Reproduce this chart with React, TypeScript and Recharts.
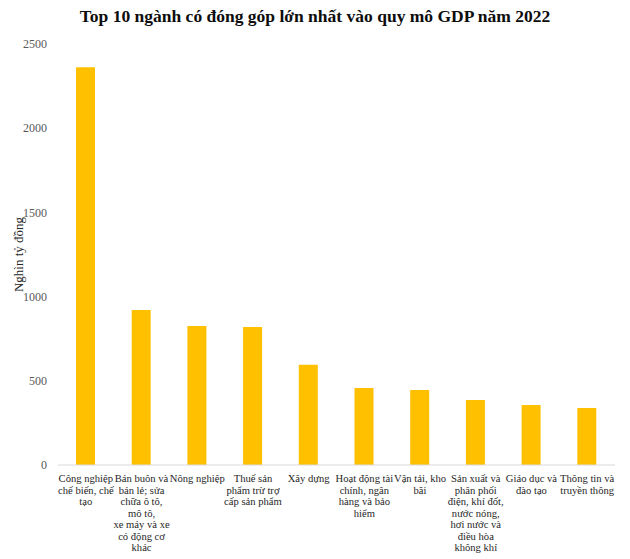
import React from "react";
import { BarChart, Bar, XAxis, YAxis } from "recharts";

const CATEGORIES = [
    "Công nghiệp\nchế biến, chế\ntạo",
    "Bán buôn và\nbán lẻ; sửa\nchữa ô tô,\nmô tô,\nxe máy và xe\ncó động cơ\nkhác",
    "Nông nghiệp",
    "Thuế sản\nphẩm trừ trợ\ncấp sản phẩm",
    "Xây dựng",
    "Hoạt động tài\nchính, ngân\nhàng và bảo\nhiểm",
    "Vận tải, kho\nbãi",
    "Sản xuất và\nphân phối\nđiện, khí đốt,\nnước nóng,\nhơi nước và\nđiều hòa\nkhông khí",
    "Giáo dục và\nđào tạo",
    "Thông tin và\ntruyền thông",
];

const VALUES = [2362, 920, 825, 820, 595, 457, 445, 386, 357, 338];

const Y_TICKS = [0, 500, 1000, 1500, 2000, 2500];

const FONT = "Liberation Serif, Times New Roman, serif";

const data = CATEGORIES.map((name, i) => ({ name, value: VALUES[i] }));

const WrappedTick = (props: any) => {
    const { x, y, payload } = props;
    const lines = String(payload.value).split("\n");
    return (
        <text x={x} y={y + 9} textAnchor="middle" style={{ fontFamily: FONT, fontSize: 10.6 }} fill="#262626">
            {lines.map((line: string, i: number) => (
                <tspan key={i} x={x} dy={i === 0 ? 0 : 11.5}>{line}</tspan>
            ))}
        </text>
    );
};

const YLabel = (props: any) => {
    const { viewBox } = props;
    const cx = 18;
    const cy = viewBox.y + viewBox.height / 2;
    return (
        <text x={cx} y={cy} transform={`rotate(-90, ${cx}, ${cy})`} textAnchor="middle" dominantBaseline="central"
            style={{ fontFamily: FONT, fontSize: 13 }} fill="#262626">
            Nghìn tỷ đồng
        </text>
    );
};

export default function App() {
    return (
        <div style={{ position: "absolute", left: 0, top: 0, width: 630, height: 559, background: "#fff", fontFamily: FONT }}>
            <div style={{
                position: "absolute", top: 6, width: 630, textAlign: "center",
                fontWeight: "bold", fontSize: 17.5, color: "#0d0d0d"
            }}>
                Top 10 ngành có đóng góp lớn nhất vào quy mô GDP năm 2022
            </div>
            <BarChart width={630} height={559} data={data} margin={{ top: 44, right: 15, bottom: 4, left: 0 }}
                style={{ fontFamily: FONT }}>
                <XAxis
                    dataKey="name"
                    interval={0}
                    height={90}
                    tickLine={false}
                    axisLine={{ stroke: "#d9d9d9" }}
                    tick={<WrappedTick />}
                />
                <YAxis
                    width={58}
                    domain={[0, 2500]}
                    ticks={Y_TICKS}
                    axisLine={false}
                    tickLine={false}
                    tickSize={6}
                    tickMargin={5}
                    tick={{ style: { fontFamily: FONT }, fontSize: 12, fill: "#595959" }}
                    label={<YLabel />}
                />
                <Bar dataKey="value" fill="#FFC000" barSize={19} isAnimationActive={false} />
            </BarChart>
        </div>
    );
}
